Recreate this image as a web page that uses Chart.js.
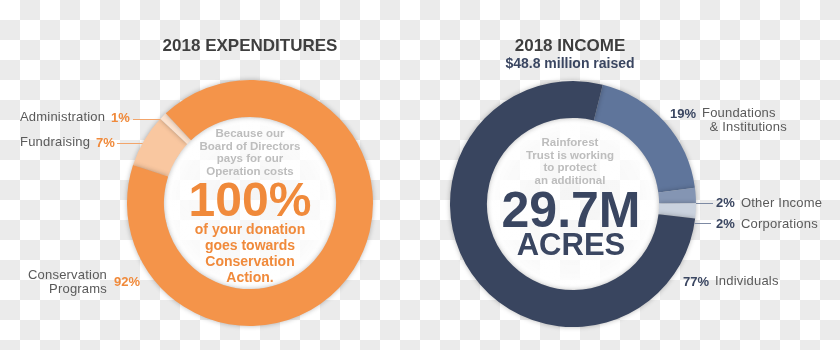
<!DOCTYPE html>
<html>
<head>
<meta charset="utf-8">
<script src="https://cdn.jsdelivr.net/npm/chart.js@4"></script>
<style>
  html, body { margin: 0; padding: 0; }
  body {
    width: 840px; height: 350px; overflow: hidden; position: relative;
    font-family: "Liberation Sans", Arial, sans-serif;
    background: repeating-conic-gradient(#ebebeb 0 25%, #ffffff 0 50%) 0 0 / 40px 40px;
  }
  canvas.half { position: absolute; top: 0; }
  .t { position: absolute; white-space: nowrap; }
  .title { font-weight: bold; font-size: 17px; color: #3f3f3f; text-align: center; width: 300px; line-height: 20px; }
  .sub { font-weight: bold; font-size: 14px; color: #3a4661; text-align: center; width: 300px; line-height: 18px; }
  .lab { font-size: 13px; color: #5a5a5a; line-height: 14px; letter-spacing: 0.2px; }
  .pc { font-size: 13px; font-weight: bold; line-height: 14px; }
  .or { color: #f08a3b; }
  .nv { color: #3a4661; }
  .mid { text-align: center; width: 200px; font-weight: bold; }
  .gray { color: #bdbdbd; font-size: 11.5px; line-height: 12.6px; }
</style>
</head>
<body>
<canvas id="expChart" class="half" width="420" height="350" style="left:0"></canvas>
<canvas id="incChart" class="half" width="420" height="350" style="left:420px"></canvas>

<!-- titles -->
<div class="t title" style="left:100px; top:36px">2018 EXPENDITURES</div>
<div class="t title" style="left:420px; top:36px">2018 INCOME</div>
<div class="t sub" style="left:420px; top:54px">$48.8 million raised</div>

<!-- expenditure labels -->
<div class="t lab" style="left:20px; top:110px">Administration</div>
<div class="t pc or" style="left:111px; top:111px">1%</div>
<div class="t lab" style="left:20px; top:135px">Fundraising</div>
<div class="t pc or" style="left:96px; top:136px">7%</div>
<div class="t lab" style="right:733px; top:268px; text-align:right">Conservation<br>Programs</div>
<div class="t pc or" style="left:114px; top:275px">92%</div>

<!-- income labels -->
<div class="t pc nv" style="left:670px; top:107px">19%</div>
<div class="t lab" style="left:702px; top:106px">Foundations<br>&nbsp;&nbsp;&amp; Institutions</div>
<div class="t pc nv" style="left:716px; top:196px">2%</div>
<div class="t lab" style="left:741px; top:196px">Other Income</div>
<div class="t pc nv" style="left:716px; top:217px">2%</div>
<div class="t lab" style="left:741px; top:217px">Corporations</div>
<div class="t pc nv" style="left:683px; top:275px">77%</div>
<div class="t lab" style="left:715px; top:274px">Individuals</div>

<!-- centre of expenditures -->
<div class="t mid gray" style="left:150px; top:127px">Because our<br>Board of Directors<br>pays for our<br>Operation costs</div>
<div class="t mid or" style="left:150px; top:175px; font-size:48px; line-height:50px">100%</div>
<div class="t mid or" style="left:150px; top:221px; font-size:14px; line-height:16px">of your donation<br>goes towards<br>Conservation<br>Action.</div>

<!-- centre of income -->
<div class="t mid gray" style="left:470px; top:136px">Rainforest<br>Trust is working<br>to protect<br>an additional</div>
<div class="t mid nv" style="left:471px; top:184px; font-size:50px; line-height:52px">29.7M</div>
<div class="t mid nv" style="left:471px; top:228px; font-size:31px; line-height:34px">ACRES</div>

<script>
// ── data ──
const expLabels = ['Fundraising', 'Administration', 'Conservation Programs'];
const expValues = [7, 1, 92];
const expColors = ['#f9c7a0', '#fce2ce', '#f4944a'];

const incLabels = ['Foundations & Institutions', 'Other Income', 'Corporations', 'Individuals'];
const incValues = [19, 2, 2, 77];
const incColors = ['#5f759b', '#8495b3', '#cad2de', '#39455f'];

// leader lines: label end x (canvas coords) and y, per chart
const expLeaders = [
  { x: 133, y: 119, color: '#f2a56b' },
  { x: 117, y: 143, color: '#f2a56b' },
];
const incLeaders = [
  { x: 293, y: 203, color: '#7d8aa3' },
  { x: 291, y: 223, color: '#7d8aa3' },
];

/** Soft white face inside the ring + drop shadow on the ring */
const ringStyle = {
  id: 'ringStyle',
  beforeDatasetsDraw(chart) {
    const arc = chart.getDatasetMeta(0).data[0];
    if (!arc) return;
    const { x, y, innerRadius } = arc.getProps(['x', 'y', 'innerRadius'], true);
    const ctx = chart.ctx;
    ctx.save();
    const g = ctx.createRadialGradient(x, y, 0, x, y, innerRadius);
    g.addColorStop(0, 'rgba(255,255,255,0.45)');
    g.addColorStop(0.8, 'rgba(255,255,255,0.75)');
    g.addColorStop(1, 'rgba(255,255,255,0.95)');
    ctx.fillStyle = g;
    ctx.beginPath();
    ctx.arc(x, y, innerRadius, 0, Math.PI * 2);
    ctx.fill();
    ctx.restore();
    // shadow applies to every arc drawn below
    ctx.save();
    ctx.shadowColor = 'rgba(0,0,0,0.28)';
    ctx.shadowBlur = 5;
  },
  afterDatasetsDraw(chart) {
    chart.ctx.restore();
    // leader lines from label to outer edge of the ring
    const leaders = chart.options.plugins.ringStyle.leaders || [];
    const arc = chart.getDatasetMeta(0).data[0];
    const { x, y, outerRadius } = arc.getProps(['x', 'y', 'outerRadius'], true);
    const ctx = chart.ctx;
    ctx.save();
    ctx.lineWidth = 1;
    leaders.forEach((l) => {
      const dy = l.y - y;
      const dx = Math.sqrt(Math.max(outerRadius * outerRadius - dy * dy, 0));
      const ex = l.x < x ? x - dx : x + dx;
      ctx.strokeStyle = l.color;
      ctx.beginPath();
      ctx.moveTo(l.x, l.y + 0.5);
      ctx.lineTo(ex, l.y + 0.5);
      ctx.stroke();
    });
    ctx.restore();
  },
};

function makeDonut(canvas, labels, values, colors, rotation, padding, leaders) {
  return new Chart(canvas, {
    type: 'doughnut',
    data: {
      labels,
      datasets: [{ data: values, backgroundColor: colors, borderWidth: 0 }],
    },
    options: {
      responsive: false,
      animation: false,
      rotation,
      cutout: '70%',
      layout: { padding },
      plugins: {
        legend: { display: false },
        tooltip: { enabled: false },
        ringStyle: { leaders },
      },
    },
    plugins: [ringStyle],
  });
}

makeDonut(document.getElementById('expChart'), expLabels, expValues, expColors, -72,
  { left: 127, right: 47, top: 80, bottom: 24 }, expLeaders);
makeDonut(document.getElementById('incChart'), incLabels, incValues, incColors, 14,
  { left: 30, right: 144, top: 81, bottom: 23 }, incLeaders);
</script>
</body>
</html>
